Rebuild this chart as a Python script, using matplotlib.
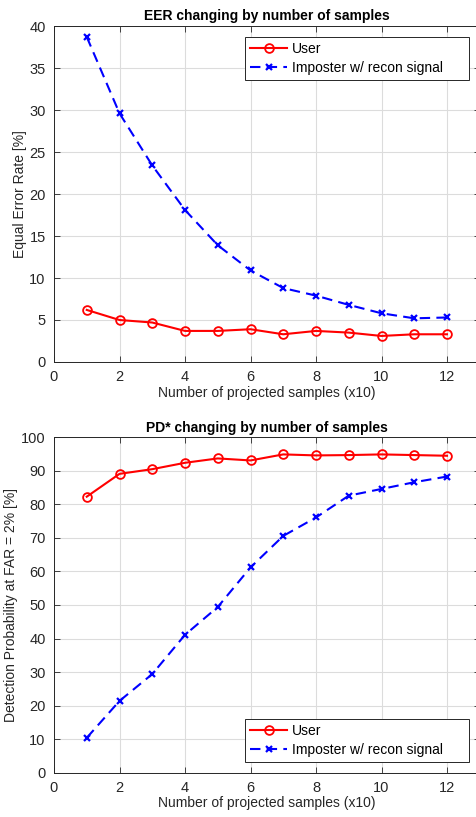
import matplotlib
matplotlib.use("Agg")
import matplotlib.pyplot as plt

plt.rcParams['font.family'] = ['Liberation Sans', 'DejaVu Sans']

x = list(range(1, 13))
eer_user = [6.2, 5.0, 4.7, 3.7, 3.7, 3.9, 3.3, 3.7, 3.5, 3.1, 3.3, 3.3]
eer_imposter = [38.7, 29.6, 23.4, 18.1, 13.9, 10.9, 8.8, 7.9, 6.8, 5.8, 5.2, 5.3]
pd_user = [82.3, 89.1, 90.5, 92.4, 93.7, 93.1, 94.9, 94.6, 94.7, 94.9, 94.7, 94.5]
pd_imposter = [10.4, 21.4, 29.4, 41.1, 49.4, 61.2, 70.6, 76.1, 82.6, 84.6, 86.6, 88.3]

labels = ["User", "Imposter w/ recon signal"]
xlabel = "Number of projected samples (x10)"

W, H = 477, 817
fig = plt.figure(figsize=(W / 100, H / 100), dpi=100)

def make_ax(top_px, bottom_px):
    left = 54 / W
    right = 479.75 / W
    return fig.add_axes([left, (H - bottom_px) / H, right - left, (bottom_px - top_px) / H])

def style(ax, ylim, yticks, title, ylabel, legend_top):
    ax.set_xlim(0, 13)
    ax.set_ylim(*ylim)
    ax.set_xticks([0, 2, 4, 6, 8, 10, 12])
    ax.set_yticks(yticks)
    ax.grid(True, color='#dcdcdc', linewidth=0.8)
    ax.set_axisbelow(True)
    ax.tick_params(direction='in', top=True, right=True, labelsize=10.5, colors='#262626', length=4, width=0.6)
    ax.tick_params(axis='y', pad=6)
    ax.tick_params(axis='x', pad=6)
    for s in ax.spines.values():
        s.set_color('#262626')
        s.set_linewidth(0.7)
    ax.set_title(title, fontsize=10, fontweight='bold', pad=4)
    ax.set_xlabel(xlabel, fontsize=10, color='#262626', labelpad=1)
    ax.set_ylabel(ylabel, fontsize=10, color='#262626', labelpad=2)
    if legend_top:
        kw = dict(loc='upper left', bbox_to_anchor=(0.4486, 0.5, 0.526, 0.467))
    else:
        kw = dict(loc='lower left', bbox_to_anchor=(0.4486, 0.032, 0.526, 0.5))
    leg = ax.legend(fontsize=10, frameon=True, fancybox=False, mode='expand',
                    edgecolor='#262626', framealpha=1, borderpad=0.35, borderaxespad=0,
                    handlelength=2.7, handletextpad=0.3, labelspacing=0.35, **kw)
    leg.get_frame().set_linewidth(0.7)

ax1 = make_ax(26, 362)
ax1.plot(x, eer_user, color='red', linestyle='-', marker='o', markersize=6.3,
         markerfacecolor='none', markeredgewidth=1.3, linewidth=1.5, label=labels[0])
ax1.plot(x, eer_imposter, color='blue', linestyle=(0, (5, 3)), marker='x', markersize=5,
         markeredgewidth=1.6, linewidth=1.5, label=labels[1])
style(ax1, (0, 40), range(0, 41, 5), "EER changing by number of samples",
      "Equal Error Rate [%]", True)

ax2 = make_ax(437.3, 772.7)
ax2.plot(x, pd_user, color='red', linestyle='-', marker='o', markersize=6.3,
         markerfacecolor='none', markeredgewidth=1.3, linewidth=1.5, label=labels[0])
ax2.plot(x, pd_imposter, color='blue', linestyle=(0, (5, 3)), marker='x', markersize=5,
         markeredgewidth=1.6, linewidth=1.5, label=labels[1])
style(ax2, (0, 100), range(0, 101, 10), "PD* changing by number of samples",
      "Detection Probability at FAR = 2% [%]", False)

fig.savefig("out.png", dpi=100)
